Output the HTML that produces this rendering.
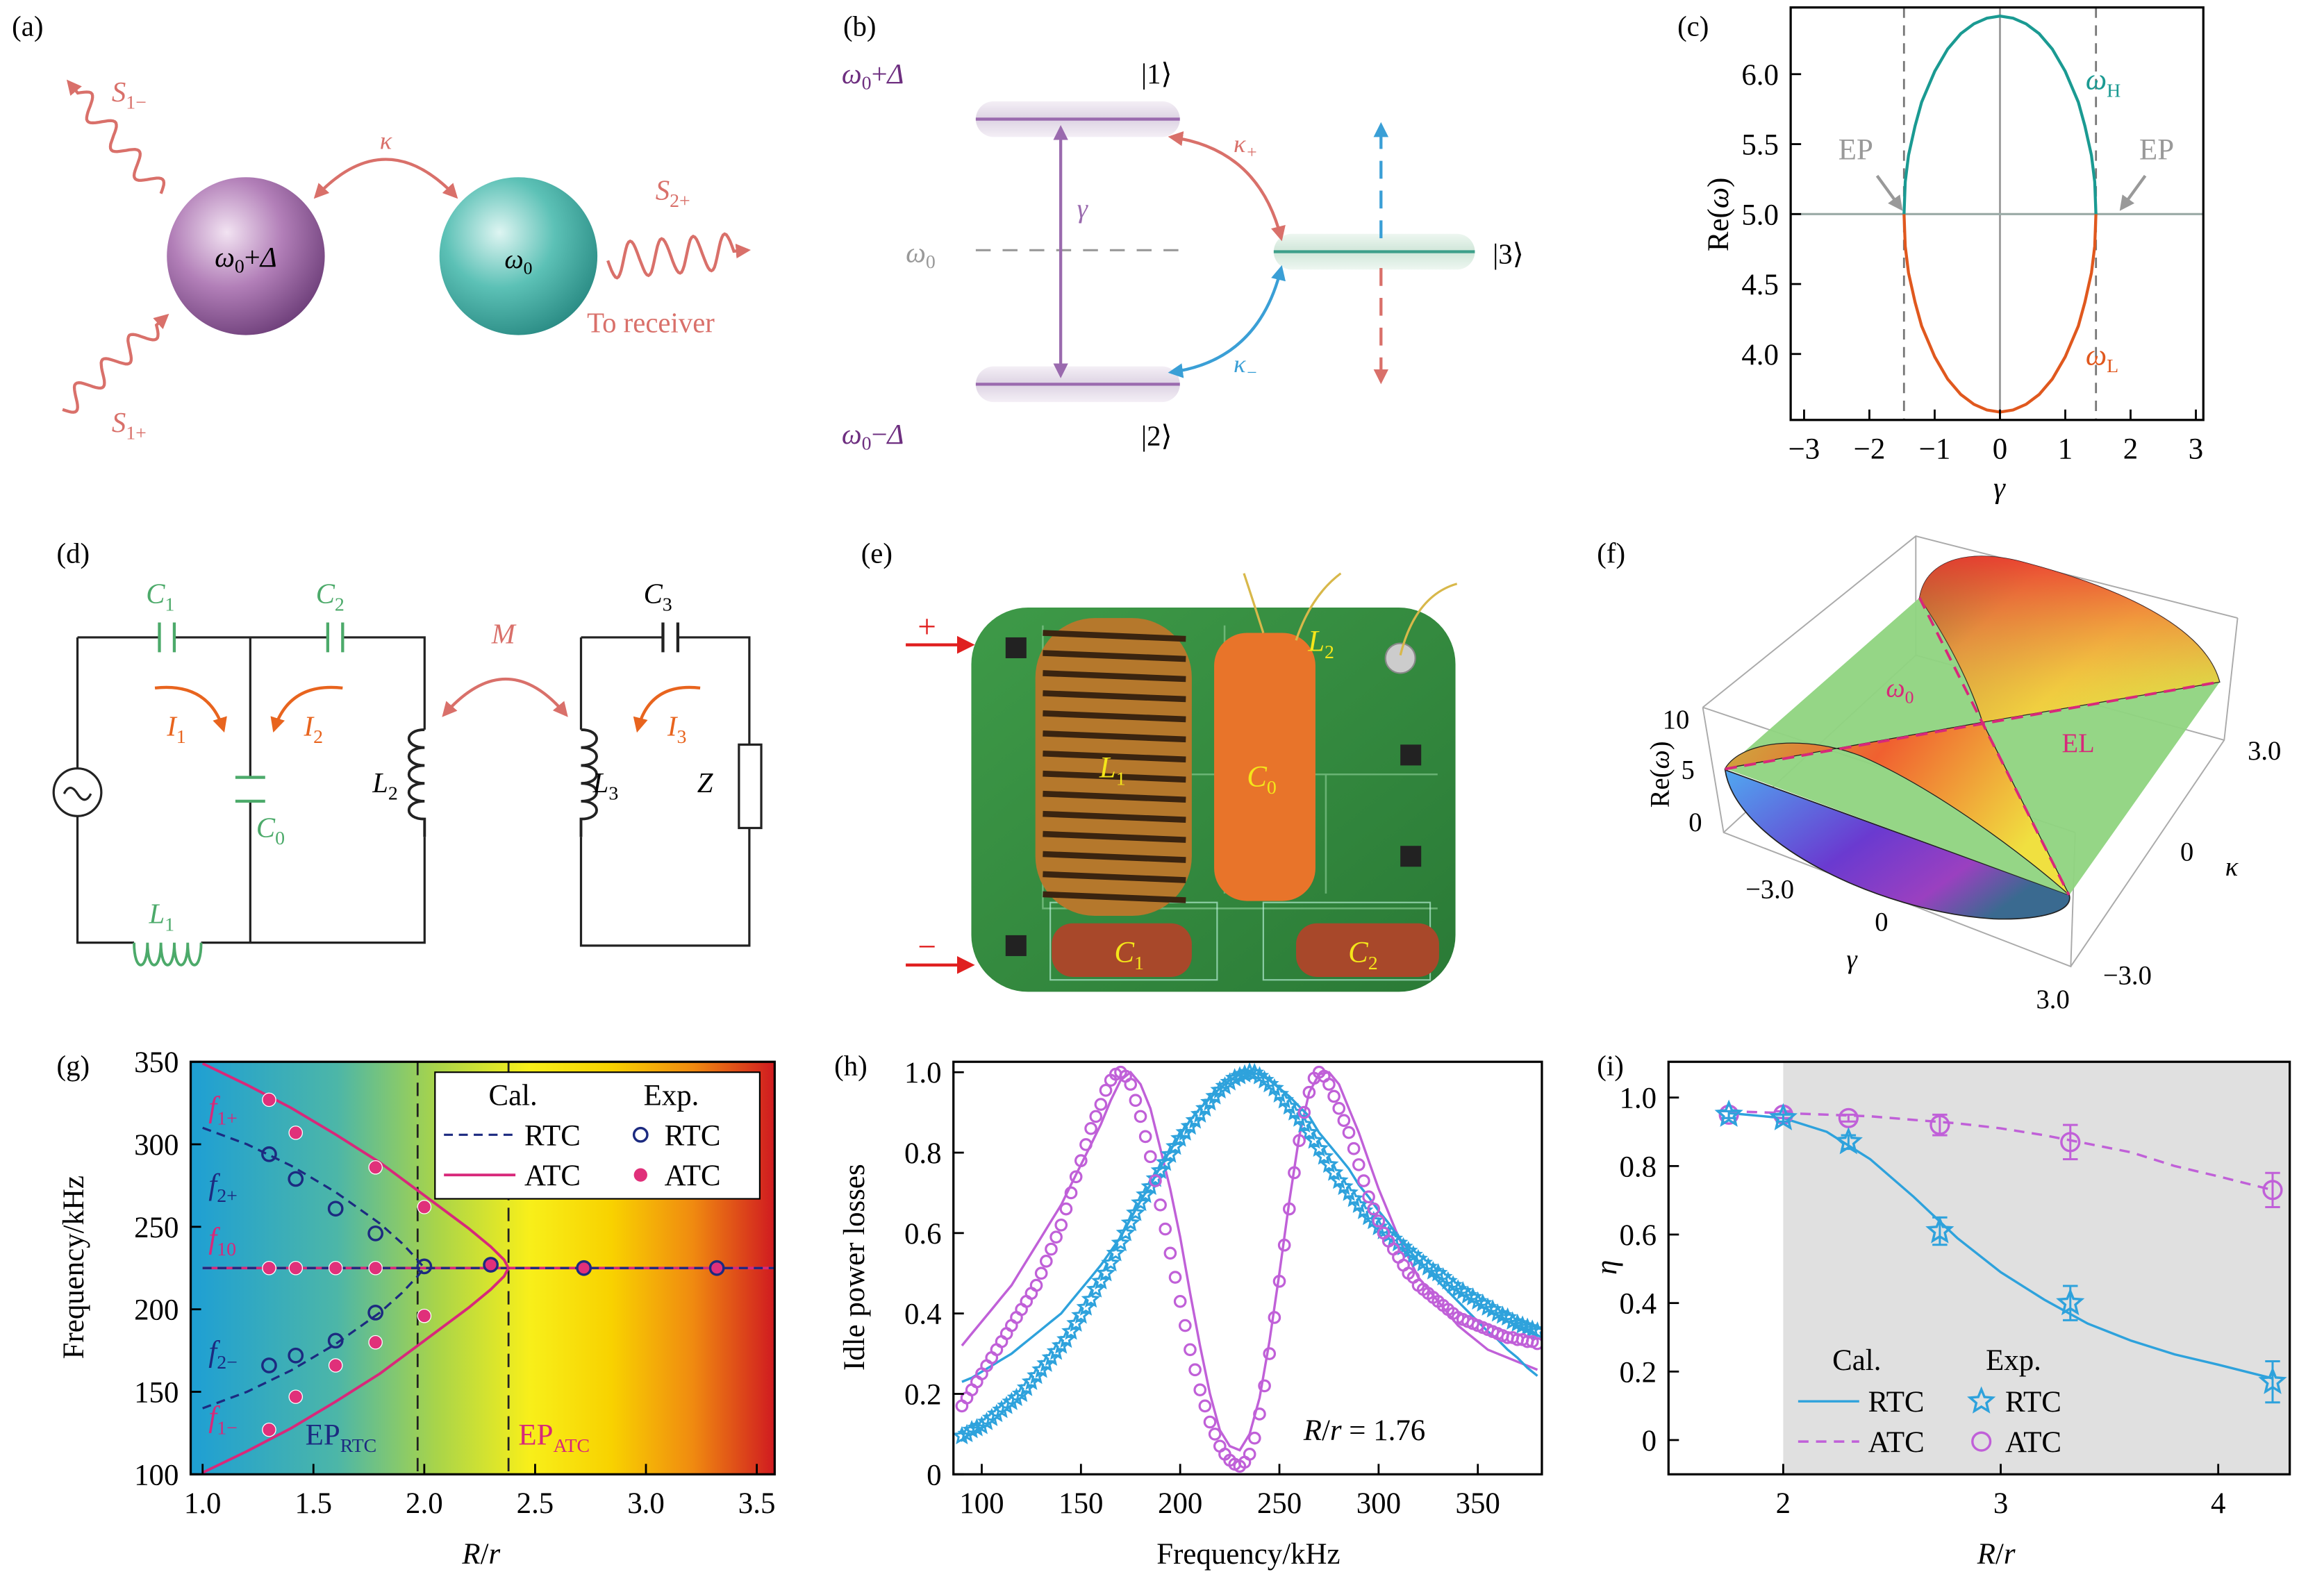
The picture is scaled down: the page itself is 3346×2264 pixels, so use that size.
<!DOCTYPE html>
<html><head><meta charset="utf-8"><style>
html,body{margin:0;padding:0;background:#fff;}
svg{display:block;font-family:"Liberation Serif",serif;}
</style></head><body>
<svg id="fig" width="3346" height="2264" viewBox="0 0 1560 1055.6" preserveAspectRatio="none" font-family="Liberation Serif, serif" xmlns="http://www.w3.org/2000/svg">
<defs>
<radialGradient id="gP" cx="0.38" cy="0.35" r="0.7"><stop offset="0" stop-color="#f2e3f2"/><stop offset="0.5" stop-color="#b27fb8"/><stop offset="1" stop-color="#6e3f7a"/></radialGradient>
<radialGradient id="gT" cx="0.38" cy="0.35" r="0.7"><stop offset="0" stop-color="#def5f2"/><stop offset="0.5" stop-color="#5cc1b6"/><stop offset="1" stop-color="#2a8b84"/></radialGradient>
<linearGradient id="gBg" x1="0" x2="1" y1="0" y2="0"><stop offset="0" stop-color="#1e9fd4"/><stop offset="0.25" stop-color="#4cb6a8"/><stop offset="0.42" stop-color="#a8d44a"/><stop offset="0.58" stop-color="#f8ef1a"/><stop offset="0.72" stop-color="#f8d200"/><stop offset="0.86" stop-color="#f08a10"/><stop offset="1" stop-color="#d01a20"/></linearGradient>
<linearGradient id="gLvP" x1="0" x2="0" y1="0" y2="1"><stop offset="0" stop-color="#f4eff6"/><stop offset="0.5" stop-color="#ddd3e3"/><stop offset="1" stop-color="#f4eff6"/></linearGradient>
<linearGradient id="gLvG" x1="0" x2="0" y1="0" y2="1"><stop offset="0" stop-color="#eef7f1"/><stop offset="0.5" stop-color="#cfe6d8"/><stop offset="1" stop-color="#eef7f1"/></linearGradient>
<linearGradient id="gSurfTop" x1="0" x2="1" y1="0.2" y2="0.8"><stop offset="0" stop-color="#6a6a30"/><stop offset="0.25" stop-color="#d8a040"/><stop offset="0.6" stop-color="#f0d040"/><stop offset="1" stop-color="#d8e048"/></linearGradient>
<linearGradient id="gSurfTop2" x1="0" x2="0" y1="0" y2="1"><stop offset="0" stop-color="#f03a30" stop-opacity="0.9"/><stop offset="0.6" stop-color="#f09040" stop-opacity="0.4"/><stop offset="1" stop-color="#f0d040" stop-opacity="0"/></linearGradient>
<linearGradient id="gSurfMid" x1="0" x2="1" y1="0" y2="0.4"><stop offset="0" stop-color="#c8b040"/><stop offset="0.45" stop-color="#f06030"/><stop offset="1" stop-color="#f0e040"/></linearGradient>
<linearGradient id="gSurfBot" x1="0" x2="1" y1="0" y2="0.6"><stop offset="0" stop-color="#50a8f0"/><stop offset="0.5" stop-color="#6a3ad0"/><stop offset="0.8" stop-color="#9a40c0"/><stop offset="1" stop-color="#3a6a90"/></linearGradient>
<linearGradient id="gBoard" x1="0" x2="1" y1="0" y2="1"><stop offset="0" stop-color="#3e9a48"/><stop offset="1" stop-color="#2a7a36"/></linearGradient>
<marker id="arR" viewBox="0 0 10 10" refX="8" refY="5" markerWidth="5" markerHeight="5" orient="auto-start-reverse"><path d="M0,0L10,5L0,10z" fill="#d9706a"/></marker>
<marker id="arB" viewBox="0 0 10 10" refX="8" refY="5" markerWidth="5" markerHeight="5" orient="auto-start-reverse"><path d="M0,0L10,5L0,10z" fill="#3a9fd6"/></marker>
<marker id="arP" viewBox="0 0 10 10" refX="8" refY="5" markerWidth="5" markerHeight="5" orient="auto-start-reverse"><path d="M0,0L10,5L0,10z" fill="#9a6aae"/></marker>
<marker id="arO" viewBox="0 0 10 10" refX="8" refY="5" markerWidth="5" markerHeight="5" orient="auto-start-reverse"><path d="M0,0L10,5L0,10z" fill="#e8641e"/></marker>
<marker id="arG" viewBox="0 0 10 10" refX="8" refY="5" markerWidth="5" markerHeight="5" orient="auto-start-reverse"><path d="M0,0L10,5L0,10z" fill="#999"/></marker>
<marker id="arRed" viewBox="0 0 10 10" refX="8" refY="5" markerWidth="6" markerHeight="6" orient="auto"><path d="M0,0L10,5L0,10z" fill="#e02020"/></marker>
</defs>

<!-- Panel a -->
<g>
<text x="8" y="24" font-size="19">(a)</text>
<circle cx="165" cy="172" r="53" fill="url(#gP)"/>
<circle cx="348" cy="172" r="53" fill="url(#gT)"/>
<text x="165" y="179" font-size="19" text-anchor="middle" font-style="italic">ω<tspan font-size="13" font-style="normal" dy="4">0</tspan><tspan dy="-4" font-style="normal">+</tspan>Δ</text>
<text x="348" y="180" font-size="18" text-anchor="middle" font-style="italic">ω<tspan font-size="12" font-style="normal" dy="4">0</tspan></text>
<path d="M212,132 Q259,82 306,132" fill="none" stroke="#d9706a" stroke-width="2" marker-start="url(#arR)" marker-end="url(#arR)"/>
<text x="259" y="100" font-size="17" fill="#d9706a" text-anchor="middle" font-style="italic">κ</text>
<g id="waves"></g>
<text x="75" y="68" font-size="19" fill="#d9706a" font-style="italic">S<tspan font-size="13" font-style="normal" dy="5">1−</tspan></text>
<text x="75" y="290" font-size="19" fill="#d9706a" font-style="italic">S<tspan font-size="13" font-style="normal" dy="5">1+</tspan></text>
<text x="440" y="134" font-size="19" fill="#d9706a" font-style="italic">S<tspan font-size="13" font-style="normal" dy="5">2+</tspan></text>
<text x="394" y="223" font-size="19" fill="#d9706a">To receiver</text>
</g>

<!-- Panel b -->
<g>
<text x="566" y="24" font-size="19">(b)</text>
<rect x="655" y="68" width="137" height="24" rx="12" fill="url(#gLvP)"/>
<line x1="655" y1="80" x2="792" y2="80" stroke="#9a6aae" stroke-width="2"/>
<rect x="655" y="246" width="137" height="24" rx="12" fill="url(#gLvP)"/>
<line x1="655" y1="258" x2="792" y2="258" stroke="#9a6aae" stroke-width="2"/>
<line x1="655" y1="168" x2="792" y2="168" stroke="#999" stroke-width="1.5" stroke-dasharray="10,8"/>
<rect x="855" y="157" width="135" height="24" rx="12" fill="url(#gLvG)"/>
<line x1="855" y1="169" x2="990" y2="169" stroke="#3d9f8a" stroke-width="2"/>
<line x1="712" y1="86" x2="712" y2="252" stroke="#9a6aae" stroke-width="2" marker-start="url(#arP)" marker-end="url(#arP)"/>
<text x="723" y="146" font-size="18" fill="#9a6aae" font-style="italic">γ</text>
<path d="M786,92 Q845,100 860,160" fill="none" stroke="#d9706a" stroke-width="2" marker-start="url(#arR)" marker-end="url(#arR)"/>
<path d="M860,180 Q845,242 786,250" fill="none" stroke="#3a9fd6" stroke-width="2" marker-start="url(#arB)" marker-end="url(#arB)"/>
<text x="828" y="102" font-size="17" fill="#d9706a" font-style="italic">κ<tspan font-size="12" dy="4">+</tspan></text>
<text x="828" y="250" font-size="17" fill="#3a9fd6" font-style="italic">κ<tspan font-size="12" dy="4">−</tspan></text>
<line x1="927" y1="160" x2="927" y2="84" stroke="#3a9fd6" stroke-width="2" stroke-dasharray="12,8" marker-end="url(#arB)"/>
<line x1="927" y1="180" x2="927" y2="256" stroke="#d9706a" stroke-width="2" stroke-dasharray="12,8" marker-end="url(#arR)"/>
<text x="565" y="56" font-size="19" fill="#6e2f80" font-style="italic">ω<tspan font-size="13" font-style="normal" dy="4">0</tspan><tspan dy="-4" font-style="normal">+</tspan>Δ</text>
<text x="766" y="56" font-size="19">|1⟩</text>
<text x="608" y="176" font-size="19" fill="#999" font-style="italic">ω<tspan font-size="13" font-style="normal" dy="4">0</tspan></text>
<text x="1002" y="177" font-size="19">|3⟩</text>
<text x="565" y="298" font-size="19" fill="#6e2f80" font-style="italic">ω<tspan font-size="13" font-style="normal" dy="4">0</tspan><tspan dy="-4" font-style="normal">−</tspan>Δ</text>
<text x="766" y="299" font-size="19">|2⟩</text>
</g>

<!-- Panel c -->
<g id="pc">
<text x="1126" y="24" font-size="19">(c)</text>
</g>

<!-- Panel d: circuit -->
<g fill="none" stroke="#222" stroke-width="1.5">
<text x="38" y="378" font-size="19" fill="#000" stroke="none">(d)</text>
<path d="M52,428 H107 M117,428 H220 M230,428 H285 V490 M285,562 V633 H168 M168,428 V522 M168,538 V633 H135 M90,633 H52 V548 M52,516 V428"/>
<path d="M390,428 H445 M455,428 H503 V500 M503,556 V635 H390 V562 M390,490 V428"/>
<path d="M107,418 V438 M117,418 V438" stroke="#4caa6a" stroke-width="2"/>
<path d="M220,418 V438 M230,418 V438" stroke="#4caa6a" stroke-width="2"/>
<path d="M158,522 H178 M158,538 H178" stroke="#4caa6a" stroke-width="2"/>
<path d="M445,418 V438 M455,418 V438" stroke-width="2"/>
<path d="M90,633 c0,20 9,20 9,0 c0,20 9,20 9,0 c0,20 9,20 9,0 c0,20 9,20 9,0 c0,20 9,20 9,0" stroke="#4caa6a" stroke-width="1.8"/>
<path d="M285,490 c-14,0 -14,12 0,12 c-14,0 -14,12 0,12 c-14,0 -14,12 0,12 c-14,0 -14,12 0,12 c-14,0 -14,12 0,12 V562" stroke-width="1.8"/>
<path d="M390,490 c14,0 14,12 0,12 c14,0 14,12 0,12 c14,0 14,12 0,12 c14,0 14,12 0,12 c14,0 14,12 0,12 V562" stroke-width="1.8"/>
<rect x="496" y="500" width="15" height="56" fill="#fff"/>
<circle cx="52" cy="532" r="16" fill="#fff"/>
<path d="M43,533 q4,-8 9,0 t9,0"/>
<path d="M298,480 Q340,432 380,480" stroke="#d9706a" stroke-width="2" marker-start="url(#arR)" marker-end="url(#arR)"/>
<path d="M104,462 Q140,458 150,490" stroke="#e8641e" stroke-width="2" marker-end="url(#arO)"/>
<path d="M230,462 Q194,458 184,490" stroke="#e8641e" stroke-width="2" marker-end="url(#arO)"/>
<path d="M470,462 Q436,458 428,490" stroke="#e8641e" stroke-width="2" marker-end="url(#arO)"/>
<g stroke="none" font-style="italic" font-size="19">
<text x="98" y="405" fill="#4caa6a">C<tspan font-size="13" font-style="normal" dy="5">1</tspan></text>
<text x="212" y="405" fill="#4caa6a">C<tspan font-size="13" font-style="normal" dy="5">2</tspan></text>
<text x="432" y="405" fill="#000">C<tspan font-size="13" font-style="normal" dy="5">3</tspan></text>
<text x="172" y="562" fill="#4caa6a">C<tspan font-size="13" font-style="normal" dy="5">0</tspan></text>
<text x="100" y="620" fill="#4caa6a">L<tspan font-size="13" font-style="normal" dy="5">1</tspan></text>
<text x="250" y="532" fill="#000">L<tspan font-size="13" font-style="normal" dy="5">2</tspan></text>
<text x="398" y="532" fill="#000">L<tspan font-size="13" font-style="normal" dy="5">3</tspan></text>
<text x="468" y="532" fill="#000">Z</text>
<text x="330" y="432" fill="#d9706a">M</text>
<text x="112" y="494" fill="#e8641e">I<tspan font-size="13" font-style="normal" dy="5">1</tspan></text>
<text x="204" y="494" fill="#e8641e">I<tspan font-size="13" font-style="normal" dy="5">2</tspan></text>
<text x="448" y="494" fill="#e8641e">I<tspan font-size="13" font-style="normal" dy="5">3</tspan></text>
</g>
</g>

<!-- Panel e: photo approximation -->
<g>
<text x="578" y="378" font-size="19">(e)</text>
<rect x="652" y="408" width="325" height="258" rx="38" fill="url(#gBoard)"/>
<path d="M700,420 V610 H965 M822,420 V600 M700,520 H965 M890,520 V600" stroke="#8fd09a" stroke-width="1.2" fill="none" opacity="0.6"/>
<rect x="705" y="606" width="112" height="52" fill="none" stroke="#cfe" stroke-width="1" opacity="0.6"/>
<rect x="848" y="606" width="112" height="52" fill="none" stroke="#cfe" stroke-width="1" opacity="0.6"/>
<rect x="675" y="428" width="14" height="14" fill="#222"/>
<rect x="675" y="628" width="14" height="14" fill="#222"/>
<rect x="940" y="500" width="14" height="14" fill="#222"/>
<rect x="940" y="568" width="14" height="14" fill="#222"/>
<circle cx="940" cy="442" r="10" fill="#ccc" stroke="#888"/>
<g>
<rect x="695" y="415" width="105" height="200" rx="40" fill="#b5782c"/>
<g id="coils" stroke="#3a2410" stroke-width="4"></g>
</g>
<rect x="815" y="425" width="68" height="180" rx="22" fill="#e8742a"/>
<path d="M848,425 Q840,400 835,385 M870,430 Q880,400 900,385" stroke="#d8b84a" stroke-width="1.5" fill="none"/>
<path d="M940,440 Q950,400 978,392" stroke="#d8b84a" stroke-width="1.5" fill="none"/>
<rect x="706" y="620" width="94" height="36" rx="14" fill="#a8482a"/>
<rect x="870" y="620" width="96" height="36" rx="14" fill="#a8482a"/>
<g fill="#f4e61a" font-style="italic" font-size="20">
<text x="738" y="522">L<tspan font-size="13" font-style="normal" dy="5">1</tspan></text>
<text x="837" y="528">C<tspan font-size="13" font-style="normal" dy="5">0</tspan></text>
<text x="878" y="437">L<tspan font-size="13" font-style="normal" dy="5">2</tspan></text>
<text x="748" y="646">C<tspan font-size="13" font-style="normal" dy="5">1</tspan></text>
<text x="905" y="646">C<tspan font-size="13" font-style="normal" dy="5">2</tspan></text>
</g>
<line x1="608" y1="433" x2="652" y2="433" stroke="#e02020" stroke-width="2" marker-end="url(#arRed)"/>
<line x1="608" y1="648" x2="652" y2="648" stroke="#e02020" stroke-width="2" marker-end="url(#arRed)"/>
<text x="616" y="428" font-size="22" fill="#e02020">+</text>
<text x="616" y="643" font-size="22" fill="#e02020">−</text>
</g>

<!-- Panel f: 3D surface approximation -->
<g>
<text x="1072" y="378" font-size="19">(f)</text>
<path d="M1143,475 L1286,360 L1502,415 M1143,475 L1157,559 L1390,649 L1393,559 M1390,649 L1493,497 L1502,415 M1143,475 L1393,559 M1286,360 L1286,440 L1157,559 M1286,440 L1493,497" fill="none" stroke="#aaa" stroke-width="0.9"/>
<path d="M1158,517 L1389,601 C1392,612 1370,618 1338,617 C1260,612 1165,565 1158,517 Z" fill="url(#gSurfBot)" stroke="#222" stroke-width="0.8"/>
<path d="M1158,516 L1288.5,401.4 L1490,458 L1389,601 Z" fill="#8fd480" fill-opacity="0.95"/>
<path d="M1158,516 C1170,496 1215,494 1250,508 C1300,530 1360,575 1389,601 L1330.8,485 Z" fill="url(#gSurfMid)" stroke="#222" stroke-width="0.6"/>
<path d="M1288.5,401.4 C1293,374 1325,368 1360,378 C1420,394 1480,420 1490,458 L1330.8,485 Q1318,445 1288.5,401.4 Z" fill="url(#gSurfTop)" stroke="#222" stroke-width="0.6"/>
<path d="M1288.5,401.4 C1293,374 1325,368 1360,378 C1420,394 1480,420 1490,458 L1330.8,485 Q1318,445 1288.5,401.4 Z" fill="url(#gSurfTop2)"/>
<path d="M1158,516.4 L1490,457.9 M1288.5,401.4 L1388.8,601" stroke="#d8287a" stroke-width="1.8" stroke-dasharray="8,5" fill="none"/>
<text x="1266" y="468" font-size="18" fill="#d8287a" font-style="italic">ω<tspan font-size="12" font-style="normal" dy="4">0</tspan></text>
<text x="1384" y="505" font-size="18" fill="#d8287a">EL</text>
<g font-size="18" text-anchor="middle">
<text x="1125" y="489">10</text>
<text x="1133" y="523">5</text>
<text x="1138" y="558">0</text>
<text x="1120" y="520" transform="rotate(-90 1120 520)">Re(<tspan font-style="italic">ω</tspan>)</text>
<text x="1188" y="603">−3.0</text>
<text x="1263" y="625">0</text>
<text x="1378" y="677">3.0</text>
<text x="1243" y="650" font-style="italic">γ</text>
<text x="1520" y="510">3.0</text>
<text x="1468" y="578">0</text>
<text x="1428" y="661">−3.0</text>
<text x="1498" y="588" font-style="italic">κ</text>
</g>
</g>

<g id="pg"><text x="38" y="722" font-size="19">(g)</text></g>
<g id="ph"><text x="560" y="722" font-size="19">(h)</text></g>
<g id="pi"><text x="1072" y="722" font-size="19">(i)</text></g>
</svg>

<script>
// ---------- Panel (g) data ----------
const gAtcCalcX = [1.0,1.2,1.4,1.6,1.8,2.0,2.2,2.3,2.36,2.38];
const gAtcCalcUp = [349,336,322,306,289,269,249,238,230,225];
const gRtcCalcX = [1.0,1.2,1.4,1.6,1.8,1.9,1.97,2.0];
const gRtcCalcUp = [310,300,287,271,252,240,230,225];
const gAtcExpX = [1.3,1.42,1.78,2.0,1.3,1.42,1.6,1.78,2.3,2.72,3.32,1.3,1.42,1.6,1.78,2.0];
const gAtcExpY = [327,307,286,262,225,225,225,225,227,225,225,127,147,166,180,196];
const gRtcExpX = [1.3,1.42,1.6,1.78,2.0,2.3,2.72,3.32,1.3,1.42,1.6,1.78];
const gRtcExpY = [294,279,261,246,226,227,225,225,166,172,181,198];
const gXTicks = [1.0,1.5,2.0,2.5,3.0,3.5];
const gYTicks = [100,150,200,250,300,350];
const gEP = [1.97,2.38];
// ---------- Panel (h) data ----------
const hFreq = [90,95,100,105,110,115,120,125,130,135,140,145,150,155,160,165,170,175,180,185,190,195,200,205,210,215,220,225,230,235,240,245,250,255,260,265,270,275,280,285,290,295,300,305,310,315,320,325,330,335,340,345,350,355,360,365,370,375,380];
const hAtcCalc = [0.32,0.35,0.38,0.41,0.44,0.47,0.51,0.55,0.59,0.63,0.67,0.72,0.77,0.82,0.87,0.93,0.98,1.0,0.97,0.91,0.81,0.71,0.59,0.45,0.32,0.2,0.11,0.07,0.06,0.1,0.19,0.33,0.5,0.68,0.84,0.95,0.995,1.0,0.97,0.91,0.85,0.78,0.71,0.65,0.59,0.54,0.49,0.46,0.43,0.4,0.37,0.35,0.33,0.31,0.3,0.29,0.28,0.27,0.26];
const hRtcCalc = [0.23,0.24,0.255,0.27,0.285,0.3,0.32,0.34,0.36,0.38,0.4,0.43,0.46,0.49,0.52,0.555,0.59,0.635,0.68,0.72,0.765,0.805,0.845,0.88,0.91,0.935,0.96,0.98,0.995,1.0,0.995,0.98,0.96,0.94,0.915,0.89,0.85,0.82,0.79,0.76,0.72,0.69,0.655,0.625,0.59,0.56,0.53,0.505,0.48,0.455,0.43,0.405,0.38,0.355,0.335,0.31,0.29,0.265,0.245];
const hFreqExp = [90,92.5,95,97.5,100,102.5,105,107.5,110,112.5,115,117.5,120,122.5,125,127.5,130,132.5,135,137.5,140,142.5,145,147.5,150,152.5,155,157.5,160,162.5,165,167.5,170,172.5,175,177.5,180,182.5,185,187.5,190,192.5,195,197.5,200,202.5,205,207.5,210,212.5,215,217.5,220,222.5,225,227.5,230,232.5,235,237.5,240,242.5,245,247.5,250,252.5,255,257.5,260,262.5,265,267.5,270,272.5,275,277.5,280,282.5,285,287.5,290,292.5,295,297.5,300,302.5,305,307.5,310,312.5,315,317.5,320,322.5,325,327.5,330,332.5,335,337.5,340,342.5,345,347.5,350,352.5,355,357.5,360,362.5,365,367.5,370,372.5,375,377.5,380];
const hRtcExp = [0.095,0.10,0.11,0.115,0.12,0.13,0.14,0.15,0.16,0.17,0.18,0.19,0.20,0.215,0.23,0.245,0.26,0.275,0.29,0.305,0.32,0.335,0.355,0.375,0.395,0.415,0.435,0.46,0.48,0.50,0.525,0.55,0.575,0.60,0.625,0.65,0.675,0.695,0.715,0.735,0.755,0.775,0.795,0.815,0.835,0.85,0.865,0.88,0.895,0.91,0.925,0.94,0.955,0.965,0.975,0.985,0.99,0.995,1.0,0.998,0.99,0.98,0.97,0.96,0.945,0.93,0.915,0.90,0.885,0.87,0.85,0.83,0.81,0.79,0.77,0.75,0.73,0.715,0.70,0.685,0.67,0.655,0.64,0.63,0.615,0.605,0.595,0.585,0.575,0.565,0.555,0.545,0.535,0.525,0.515,0.505,0.50,0.49,0.48,0.47,0.46,0.455,0.445,0.44,0.43,0.425,0.415,0.41,0.40,0.395,0.39,0.38,0.375,0.37,0.365,0.36,0.355];
const hAtcExp = [0.17,0.19,0.21,0.23,0.25,0.27,0.29,0.31,0.33,0.35,0.37,0.39,0.41,0.43,0.45,0.47,0.50,0.53,0.56,0.59,0.62,0.66,0.70,0.74,0.78,0.82,0.86,0.89,0.92,0.955,0.98,0.995,1.0,0.99,0.97,0.93,0.89,0.84,0.79,0.73,0.67,0.61,0.55,0.49,0.43,0.37,0.31,0.26,0.21,0.17,0.13,0.10,0.07,0.05,0.035,0.025,0.02,0.03,0.05,0.09,0.15,0.22,0.30,0.39,0.48,0.57,0.66,0.75,0.83,0.90,0.95,0.985,1.0,0.99,0.97,0.94,0.91,0.88,0.85,0.81,0.77,0.73,0.69,0.66,0.63,0.60,0.58,0.56,0.54,0.52,0.50,0.49,0.47,0.46,0.45,0.44,0.43,0.42,0.41,0.40,0.39,0.385,0.38,0.375,0.37,0.365,0.36,0.355,0.35,0.345,0.34,0.34,0.335,0.335,0.33,0.33,0.325];
const hXTicks = [100,150,200,250,300,350];
const hYTicks = [0,0.2,0.4,0.6,0.8,1.0];
// ---------- Panel (i) data ----------
const iExpX = [1.75,2.0,2.3,2.72,3.32,4.25];
const iRtcExp = [0.95,0.94,0.87,0.61,0.4,0.17];
const iRtcErr = [0.01,0.01,0.02,0.04,0.05,0.06];
const iAtcExp = [0.95,0.95,0.94,0.92,0.87,0.73];
const iAtcErr = [0.01,0.01,0.01,0.03,0.05,0.05];
const iCalcX = [1.75,2.0,2.2,2.4,2.6,2.8,3.0,3.2,3.4,3.6,3.8,4.0,4.25];
const iRtcCalc = [0.955,0.94,0.9,0.82,0.71,0.59,0.49,0.41,0.34,0.29,0.25,0.22,0.18];
const iAtcCalc = [0.96,0.955,0.95,0.945,0.935,0.925,0.91,0.89,0.865,0.84,0.8,0.77,0.73];
const iXTicks = [2,3,4];
const iYTicks = [0,0.2,0.4,0.6,0.8,1.0];
// ---------- Panel (c) data ----------
const cGamma = [-1.47,-1.45,-1.4,-1.3,-1.2,-1.0,-0.8,-0.6,-0.4,-0.2,0,0.2,0.4,0.6,0.8,1.0,1.2,1.3,1.4,1.45,1.47];
const cSplit = [0,0.23,0.42,0.63,0.8,1.02,1.18,1.29,1.36,1.40,1.415,1.40,1.36,1.29,1.18,1.02,0.8,0.63,0.42,0.23,0];
const cXTicks = [-3,-2,-1,0,1,2,3];
const cYTicks = [4.0,4.5,5.0,5.5,6.0];

const NS='http://www.w3.org/2000/svg';
function E(tag, parent, attrs){const e=document.createElementNS(NS,tag);for(const k in attrs)e.setAttribute(k,attrs[k]);parent.appendChild(e);return e;}
function lin(d0,d1,r0,r1){return v=>r0+(v-d0)*(r1-r0)/(d1-d0);}
function pathOf(xs,ys,sx,sy){return xs.map((x,i)=>(i?'L':'M')+sx(x).toFixed(1)+','+sy(ys[i]).toFixed(1)).join('');}
function fmt(v,d){return d===0?String(v):v.toFixed(d);}
function axes(g,box,sx,sy,xt,yt,xd,yd){
  const fr=E('rect',g,{x:box[0],y:box[1],width:box[2]-box[0],height:box[3]-box[1],fill:'none',stroke:'#000','stroke-width':1.5});
  
  
  xt.forEach(v=>{
    const t=E('line',g,{x1:sx(v),x2:sx(v),y1:box[3],y2:box[3]-7,stroke:'#000','stroke-width':1.3});
    
    
    const l=E('text',g,{x:sx(v),y:box[3]+26,'font-size':20,'text-anchor':'middle'});
    l.textContent=String(fmt(v,xd)).replace('-','−');
    
    
  });
  yt.forEach(v=>{
    const t=E('line',g,{x1:box[0],x2:box[0]+7,y1:sy(v),y2:sy(v),stroke:'#000','stroke-width':1.3});
    
    
    const l=E('text',g,{x:box[0]-8,y:sy(v)+7,'font-size':20,'text-anchor':'end'});
    l.textContent=(v===0)?'0':fmt(v,yd);
    
    
  });
}
function txt(g,x,y,s,name,attrs){const t=E('text',g,Object.assign({x:x,y:y,'font-size':20},attrs||{}));t.innerHTML=s;return t;}
function star(cx,cy,R){let d='';for(let k=0;k<10;k++){const rr=k%2?R*0.45:R,an=-Math.PI/2+k*Math.PI/5;d+=(k?'L':'M')+(cx+rr*Math.cos(an)).toFixed(1)+','+(cy+rr*Math.sin(an)).toFixed(1);}return d+'Z';}

// waves panel a
(function(){
  const g=document.getElementById('waves');
  function wave(x0,y0,x1,y1,n,a,name){
    const dx=x1-x0,dy=y1-y0,L=Math.hypot(dx,dy),ux=dx/L,uy=dy/L,px=-uy,py=ux;let d='';
    for(let i=0;i<=80;i++){const t=i/80,s=t*L*0.9,w=a*Math.sin(t*n*2*Math.PI);d+=(i?'L':'M')+(x0+ux*s+px*w).toFixed(1)+','+(y0+uy*s+py*w).toFixed(1);}
    d+='L'+x1+','+y1;
    const p=E('path',g,{d:d,fill:'none',stroke:'#d9706a','stroke-width':2,'marker-end':'url(#arR)'});
    
    
  }
  wave(108,130,46,55,3.5,7,'wave-s1-minus');
  wave(42,275,112,212,3.5,7,'wave-s1-plus');
  wave(408,175,502,168,4,12,'wave-s2-plus');
  const c=document.getElementById('coils');
  for(let i=0;i<14;i++){const y=425+i*13.5;const l=E('line',c,{x1:700,x2:796,y1:y,y2:y+4});}
})();

// Panel c
(function(){
  const g=document.getElementById('pc');const box=[1202,5,1479,282];
  const sx=lin(-3,3,1211,1474), sy=lin(4,6,237.7,49.8);
  const l0=E('line',g,{x1:sx(0),x2:sx(0),y1:box[1],y2:box[3],stroke:'#999','stroke-width':1.3});
  
  
  const l5=E('line',g,{x1:box[0],x2:box[2],y1:sy(5),y2:sy(5),stroke:'#9aaaa6','stroke-width':1.5});
  
  
  [-1.47,1.47].forEach(v=>{const d=E('line',g,{x1:sx(v),x2:sx(v),y1:box[1],y2:box[3],stroke:'#777','stroke-width':1.3,'stroke-dasharray':'7,5'});});
  const up=E('path',g,{d:pathOf(cGamma,cSplit.map(v=>5+v),sx,sy),fill:'none',stroke:'#1a9a92','stroke-width':2});
  
  
  const lo=E('path',g,{d:pathOf(cGamma,cSplit.map(v=>5-v),sx,sy),fill:'none',stroke:'#e0581e','stroke-width':2});
  
  
  axes(g,box,sx,sy,cXTicks,cYTicks,0,1);
  txt(g,1400,60,'<tspan font-style="italic">ω</tspan><tspan font-size="13" dy="5">H</tspan>','omega-h-label',{fill:'#1a9a92'});
  txt(g,1400,245,'<tspan font-style="italic">ω</tspan><tspan font-size="13" dy="5">L</tspan>','omega-l-label',{fill:'#e0581e'});
  txt(g,1234,107,'EP','ep-left-label',{fill:'#999'});
  txt(g,1436,107,'EP','ep-right-label',{fill:'#999'});
  const a1=E('line',g,{x1:1260,y1:118,x2:1276,y2:140,stroke:'#999','stroke-width':2,'marker-end':'url(#arG)'});
  const a2=E('line',g,{x1:1440,y1:118,x2:1424,y2:140,stroke:'#999','stroke-width':2,'marker-end':'url(#arG)'});
  txt(g,1160,144,'Re(<tspan font-style="italic">ω</tspan>)','c-y-axis-title',{transform:'rotate(-90 1160 144)','text-anchor':'middle'});
  txt(g,1342,334,'γ','c-x-axis-title',{'font-style':'italic','text-anchor':'middle'});
})();

// Panel g
(function(){
  const g=document.getElementById('pg');const box=[128,713,520,990];
  const sx=lin(1,3.5,136,508), sy=lin(100,350,990,713);
  const bg=E('rect',g,{x:box[0],y:box[1],width:box[2]-box[0],height:box[3]-box[1],fill:'url(#gBg)'});
  
  
  gEP.forEach(v=>{const d=E('line',g,{x1:sx(v),x2:sx(v),y1:box[1],y2:box[3],stroke:'#222','stroke-width':1.3,'stroke-dasharray':'9,5'});});
  const mid=E('line',g,{x1:sx(1),x2:box[2],y1:sy(225),y2:sy(225),stroke:'#d8287a','stroke-width':1.8});
  const mid2=E('line',g,{x1:sx(1),x2:box[2],y1:sy(225),y2:sy(225),stroke:'#1c2a80','stroke-width':1.5,'stroke-dasharray':'6,4'});
  [1,-1].forEach(s=>{
    const a=E('path',g,{d:pathOf(gAtcCalcX,gAtcCalcUp.map(v=>225+s*(v-225)),sx,sy),fill:'none',stroke:'#d8287a','stroke-width':1.8});
    
    
    const r=E('path',g,{d:pathOf(gRtcCalcX,gRtcCalcUp.map(v=>225+s*(v-225)),sx,sy),fill:'none',stroke:'#1c2a80','stroke-width':1.5,'stroke-dasharray':'6,4'});
    
    
  });
  gAtcExpX.forEach((x,i)=>{const c=E('circle',g,{cx:sx(x),cy:sy(gAtcExpY[i]),r:4.5,fill:'#e0307a',stroke:'#fff','stroke-width':0.6});});
  gRtcExpX.forEach((x,i)=>{const c=E('circle',g,{cx:sx(x),cy:sy(gRtcExpY[i]),r:4.5,fill:'none',stroke:'#1c2a80','stroke-width':1.6});});
  axes(g,box,sx,sy,gXTicks,gYTicks,1,0);
  const lg=E('rect',g,{x:292,y:720,width:218,height:85,fill:'#fff',stroke:'#000','stroke-width':1});
  txt(g,328,742,'Cal.','legend-cal-header');txt(g,432,742,'Exp.','legend-exp-header');
  const l1=E('line',g,{x1:298,x2:346,y1:762,y2:762,stroke:'#1c2a80','stroke-width':1.5,'stroke-dasharray':'6,4'});
  const l2=E('line',g,{x1:298,x2:346,y1:789,y2:789,stroke:'#d8287a','stroke-width':1.8});
  txt(g,352,769,'RTC','legend-rtc-calc-label');txt(g,352,796,'ATC','legend-atc-calc-label');
  const m1=E('circle',g,{cx:430,cy:762,r:4.5,fill:'none',stroke:'#1c2a80','stroke-width':1.6});
  const m2=E('circle',g,{cx:430,cy:789,r:4.5,fill:'#e0307a'});
  txt(g,446,769,'RTC','legend-rtc-exp-label');txt(g,446,796,'ATC','legend-atc-exp-label');
  const lab=[['f','1+',140,750,'#d8287a'],['f','2+',140,802,'#1c2a80'],['f','10',140,838,'#d8287a'],['f','2−',140,914,'#1c2a80'],['f','1−',140,958,'#d8287a']];
  lab.forEach(a=>txt(g,a[2],a[3],'<tspan font-style="italic">'+a[0]+'</tspan><tspan font-size="13" dy="5">'+a[1]+'</tspan>','branch-label',{fill:a[4]}));
  txt(g,205,970,'EP<tspan font-size="13" dy="5">RTC</tspan>','ep-rtc-label',{fill:'#1c2a80'});
  txt(g,348,970,'EP<tspan font-size="13" dy="5">ATC</tspan>','ep-atc-label',{fill:'#d8287a'});
  txt(g,56,851,'Frequency/kHz','g-y-axis-title',{transform:'rotate(-90 56 851)','text-anchor':'middle'});
  txt(g,323,1050,'<tspan font-style="italic">R</tspan>/<tspan font-style="italic">r</tspan>','g-x-axis-title',{'text-anchor':'middle'});
})();

// Panel h
(function(){
  const g=document.getElementById('ph');const box=[640,713,1035,990];
  const sx=lin(100,350,659,992), sy=lin(0,1,990,720);
  const cp=E('clipPath',g,{id:'clipH'});
  
  
  const cr=E('rect',cp,{x:box[0],y:box[1],width:box[2]-box[0],height:box[3]-box[1]});
  
  
  const inner=E('g',g,{'clip-path':'url(#clipH)'});
  
  
  const a=E('path',inner,{d:pathOf(hFreq,hAtcCalc,sx,sy),fill:'none',stroke:'#c060d8','stroke-width':1.6});
  
  
  const r=E('path',inner,{d:pathOf(hFreq,hRtcCalc,sx,sy),fill:'none',stroke:'#2ea2dc','stroke-width':1.6});
  
  
  hFreqExp.forEach((f,i)=>{const s=E('path',inner,{d:star(sx(f),sy(hRtcExp[i]),5),fill:'none',stroke:'#2ea2dc','stroke-width':1.4});});
  hFreqExp.forEach((f,i)=>{const c=E('circle',inner,{cx:sx(f),cy:sy(hAtcExp[i]),r:3.6,fill:'none',stroke:'#c060d8','stroke-width':1.5});});
  axes(g,box,sx,sy,hXTicks,hYTicks,0,1);
  txt(g,875,967,'<tspan font-style="italic">R</tspan>/<tspan font-style="italic">r</tspan> = 1.76','ratio-annotation');
  txt(g,580,851,'Idle power losses','h-y-axis-title',{transform:'rotate(-90 580 851)','text-anchor':'middle'});
  txt(g,838,1050,'Frequency/kHz','h-x-axis-title',{'text-anchor':'middle'});
})();

// Panel i
(function(){
  const g=document.getElementById('pi');const box=[1120,713,1537,990];
  const sx=lin(2,4,1197,1489), sy=lin(0,1,967,737);
  const sh=E('rect',g,{x:sx(2),y:box[1],width:box[2]-sx(2),height:box[3]-box[1],fill:'#e0e0e0'});
  
  
  const r=E('path',g,{d:pathOf(iCalcX,iRtcCalc,sx,sy),fill:'none',stroke:'#2ea2dc','stroke-width':1.6});
  
  
  const a=E('path',g,{d:pathOf(iCalcX,iAtcCalc,sx,sy),fill:'none',stroke:'#c060d8','stroke-width':1.6,'stroke-dasharray':'7,5'});
  
  
  iExpX.forEach((x,i)=>{
    const e1=E('path',g,{d:'M'+(sx(x)-5)+','+sy(iAtcExp[i]+iAtcErr[i])+'h10M'+sx(x)+','+sy(iAtcExp[i]+iAtcErr[i])+'V'+sy(iAtcExp[i]-iAtcErr[i])+'M'+(sx(x)-5)+','+sy(iAtcExp[i]-iAtcErr[i])+'h10',stroke:'#c060d8','stroke-width':1.4,fill:'none'});
    
    
    const c=E('circle',g,{cx:sx(x),cy:sy(iAtcExp[i]),r:6,fill:'none',stroke:'#c060d8','stroke-width':1.6});
    
    
    const e2=E('path',g,{d:'M'+(sx(x)-5)+','+sy(iRtcExp[i]+iRtcErr[i])+'h10M'+sx(x)+','+sy(iRtcExp[i]+iRtcErr[i])+'V'+sy(iRtcExp[i]-iRtcErr[i])+'M'+(sx(x)-5)+','+sy(iRtcExp[i]-iRtcErr[i])+'h10',stroke:'#2ea2dc','stroke-width':1.4,fill:'none'});
    
    
    const s=E('path',g,{d:star(sx(x),sy(iRtcExp[i]),8),fill:'none',stroke:'#2ea2dc','stroke-width':1.6});
    
    
  });
  axes(g,box,sx,sy,iXTicks,iYTicks,0,1);
  txt(g,1230,920,'Cal.','legend-cal-header');txt(g,1333,920,'Exp.','legend-exp-header');
  const l1=E('line',g,{x1:1207,x2:1248,y1:941,y2:941,stroke:'#2ea2dc','stroke-width':1.6});
  const l2=E('line',g,{x1:1207,x2:1248,y1:968,y2:968,stroke:'#c060d8','stroke-width':1.6,'stroke-dasharray':'7,5'});
  txt(g,1254,948,'RTC','legend-rtc-calc-label');txt(g,1254,975,'ATC','legend-atc-calc-label');
  const m1=E('path',g,{d:star(1330,941,8),fill:'none',stroke:'#2ea2dc','stroke-width':1.6});
  const m2=E('circle',g,{cx:1330,cy:968,r:6,fill:'none',stroke:'#c060d8','stroke-width':1.6});
  txt(g,1346,948,'RTC','legend-rtc-exp-label');txt(g,1346,975,'ATC','legend-atc-exp-label');
  txt(g,1085,851,'η','i-y-axis-title',{transform:'rotate(-90 1085 851)','text-anchor':'middle','font-style':'italic'});
  txt(g,1340,1050,'<tspan font-style="italic">R</tspan>/<tspan font-style="italic">r</tspan>','i-x-axis-title',{'text-anchor':'middle'});
})();
</script>
</body></html>
